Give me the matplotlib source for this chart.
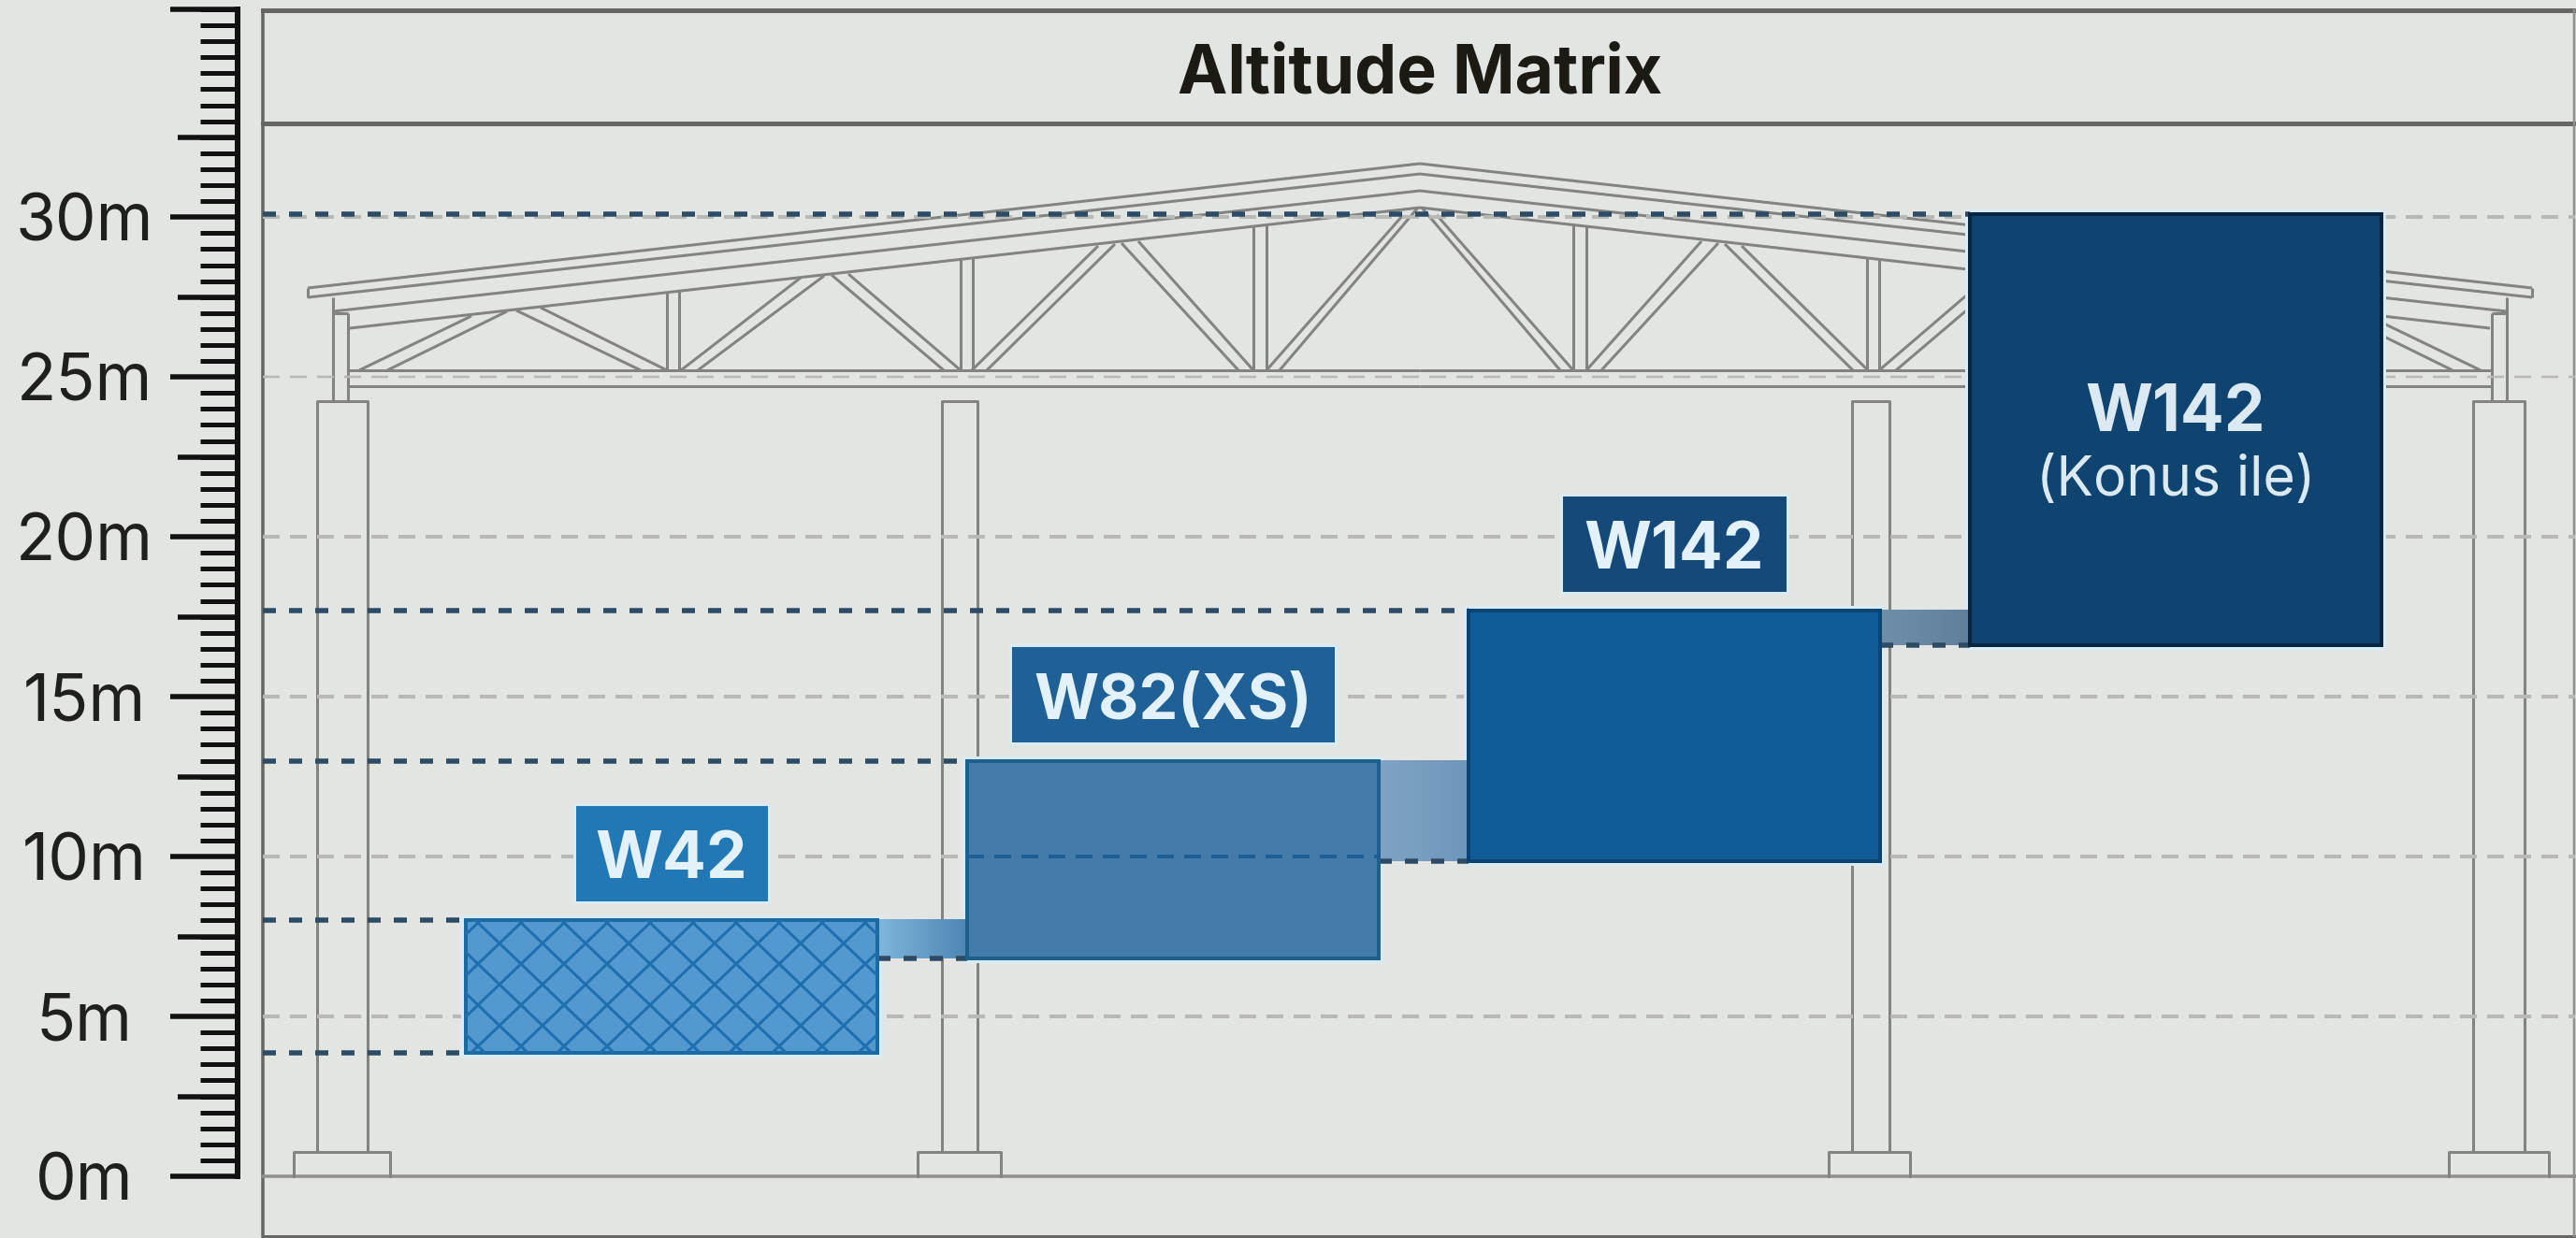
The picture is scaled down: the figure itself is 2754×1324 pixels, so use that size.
import numpy as np
import matplotlib
matplotlib.use('Agg')
import matplotlib.pyplot as plt
from matplotlib.collections import LineCollection
from matplotlib.patches import Rectangle

# values
series = ['W42', 'W82(XS)', 'W142', 'W142']
low = [3.85, 6.8, 9.85, 16.6]
high = [8.0, 13.0, 17.7, 30.1]
ruler_major = [0, 5, 10, 15, 20, 25, 30]
ruler_labels = ['0m', '5m', '10m', '15m', '20m', '25m', '30m']
ruler_mid = [2.5, 7.5, 12.5, 17.5, 22.5, 27.5, 32.5]
grid_levels = [5, 10, 15, 20, 30]

title = 'Altitude Matrix'
sub_label = '(Konus ile)'

# colours
bg = '#e3e5e2'
bar_colors = ['#5299cf', '#437cab', '#0f5a97', '#0f4470']
edge_colors = ['#1c6aa2', '#1e5f8e', '#0a4474', '#08263f']
box_colors = ['#2278b4', '#1f6096', '#14497a']
link_colors = [('#7fb6dc', '#4f87b4'), ('#7fa3c6', '#6f97bb'), ('#6f8fa9', '#5f7f9c')]
line_c = '#838381'
frame_c = '#666664'
dash_c = '#2d4b64'
grid_c = '#b8b8b4'
hatch_c = '#1f6fae'
text_c = '#e3f2fa'

W, H = 2754, 1324
px = 0.72  # one pixel in points at dpi 100
plt.rcParams['lines.scale_dashes'] = False
plt.rcParams['font.family'] = ['Inter', 'DejaVu Sans']

fig = plt.figure(figsize=(W / 100, H / 100), dpi=100, facecolor=bg)

# background layer, in pixels: frame and the hall drawing
bk = fig.add_axes([0, 0, 1, 1])
bk.set_xlim(0, W)
bk.set_ylim(H, 0)
bk.axis('off')

bk.plot([281, 281], [11, 1322], color=frame_c, lw=3.5 * px)
bk.plot([281, 2753], [11, 11], color=frame_c, lw=5 * px)
bk.plot([281, 2753], [132, 132], color=frame_c, lw=5 * px)
bk.plot([281, 2753], [1258, 1258], color='#8f8f8d', lw=3.5 * px)
bk.plot([281, 2753], [1322, 1322], color=frame_c, lw=3 * px)
bk.plot([2752, 2752], [11, 1322], color='#8f8f8d', lw=2.5 * px)

apex = 1518


def roof4(x):
    return 351 + (x - 374) * (222 - 351) / (apex - 374)


half = [
    [(329, 308), (apex, 175)],
    [(329, 318), (apex, 186)],
    [(329, 308), (329, 318)],
    [(356, 333), (apex, 204)],
    [(374, 351), (apex, 222)],
    [(356, 318), (356, 428)],
    [(372, 335), (372, 428)],
    [(356, 335), (372, 335)],
    [(372, 396), (apex, 396)],
    [(372, 413), (apex, 413)],
    # diagonals
    [(384, 396), (504, 338)], [(414, 396), (542, 333)],
    [(552, 332), (685, 396)], [(578, 329), (713, 396)],
    [(728, 396), (856, 297)], [(746, 396), (881, 295)],
    [(889, 294), (1009, 396)], [(907, 293), (1027, 396)],
    [(1039, 396), (1174, 263)], [(1055, 396), (1192, 261)],
    [(1199, 260), (1324, 396)], [(1217, 258), (1340, 396)],
    [(1354, 396), (1500, 230)], [(1368, 396), (1516, 222)],
]
for vx in [713, 726, 1027, 1040, 1340, 1354]:
    half.append([(vx, roof4(vx)), (vx, 396)])
other = [[(2 * apex - a, b) for a, b in seg] for seg in half]
bk.add_collection(LineCollection(half + other, colors=line_c, linewidths=3 * px))

# columns with their footings
columns = [(339, 393, 314, 417), (1007, 1045, 981, 1070), (1980, 2020, 1955, 2042), (2644, 2699, 2618, 2725)]
for c0, c1, f0, f1 in columns:
    bk.plot([c0, c0, c1, c1], [1232, 429, 429, 1232], color=line_c, lw=3 * px)
    bk.plot([f0, f0, f1, f1], [1258, 1232, 1232, 1258], color=line_c, lw=3 * px)

bk.text(apex, 99, title, ha='center', va='baseline', fontsize=51.5, fontweight='bold', color='#1c1a14')

# data layer: x is the position of the category, y the altitude in metres
slot = 536.0
x0 = 718.0
ax = fig.add_axes([281 / W, (H - 1258) / H, (2753 - 281) / W, (1258 - 10) / H])
ax.patch.set_alpha(0)
xl = ((281 - x0) / slot, (2753 - x0) / slot)
yl = (0, 1248 / 34.2)
bw = 440 / slot
mpx = 1 / 34.2  # one pixel in metres

for s in ['top', 'right', 'bottom']:
    ax.spines[s].set_visible(False)
ax.spines['left'].set_position(('outward', 27 * px))
ax.spines['left'].set_linewidth(6 * px)
ax.spines['left'].set_color('#111111')

grid_style = (0, (18 * px, 11 * px))
dark_style = (0, (14 * px, 14 * px))
ax.hlines(grid_levels, xl[0], xl[1], colors=grid_c, linewidth=4 * px, linestyle=grid_style, zorder=1)
ax.hlines(25, xl[0], xl[1], colors=grid_c, linewidth=2.5 * px, linestyle=grid_style, zorder=1)

# bars with a pale halo behind
pos = np.arange(len(series))
heights = np.array(high) - np.array(low)
ax.bar(pos, heights, bottom=low, width=bw, color='none', edgecolor='#d9ecf5', linewidth=10 * px, zorder=2)
bars = ax.bar(pos, heights, bottom=low, width=bw, color=bar_colors, edgecolor=edge_colors, linewidth=4 * px, zorder=4)

# lattice on the first bar
first = bars[0]
lat = 46 / slot
lat_h = 44 * mpx
for k in np.arange(-20, 20):
    xs = np.array([-1, 1])
    for sgn in (1, -1):
        ln, = ax.plot(xs, sgn * xs * lat_h / lat + k * lat_h + 6, color=hatch_c, lw=3 * px, zorder=4.5)
        ln.set_clip_path(first)

# links between the bars
for i, (c0, c1) in enumerate(link_colors):
    ramp = np.linspace(matplotlib.colors.to_rgb(c0), matplotlib.colors.to_rgb(c1), 64)[None, :, :]
    ax.imshow(ramp, extent=(i + bw / 2, i + 1 - bw / 2, low[i + 1], high[i]), aspect='auto', zorder=3, interpolation='bilinear')

# dashes from the frame to the bars
for i in pos:
    ax.hlines(high[i], xl[0], i - bw / 2, colors=dash_c, linewidth=5.5 * px, linestyle=dark_style, zorder=3.5)
ax.hlines(low[0], xl[0], -bw / 2, colors=dash_c, linewidth=5.5 * px, linestyle=dark_style, zorder=3.5)
for i in pos[1:]:
    ax.hlines(low[i], i - 1 + bw / 2, i - bw / 2, colors=dash_c, linewidth=5.5 * px, linestyle=dark_style, zorder=3.5)
ax.hlines(10, 1 - bw / 2, 1 + bw / 2, colors='#1f5e94', linewidth=4 * px, linestyle=grid_style, zorder=4.2)

# label boxes over the first three bars
box_w = [205, 345, 239]
box_size = [50, 48, 50]
box_h = 102 * mpx
for i in range(3):
    bx = box_w[i] / slot
    ybot = high[i] + 20 * mpx
    ax.add_patch(Rectangle((i - bx / 2, ybot), bx, box_h, facecolor='none', edgecolor='#d9ecf5', linewidth=6 * px, zorder=5))
    ax.add_patch(Rectangle((i - bx / 2, ybot), bx, box_h, facecolor=box_colors[i], edgecolor='none', zorder=5.1))
    ax.text(i, ybot + box_h / 2 - 26 * mpx, series[i], ha='center', va='baseline', fontsize=box_size[i], fontweight='bold', color=text_c, zorder=6)

ax.text(3, 23.3, series[3], ha='center', va='baseline', fontsize=50, fontweight='bold', color='#dbe9f2', zorder=6)
ax.text(3, 21.29, sub_label, ha='center', va='baseline', fontsize=42.5, color='#dbe9f2', zorder=6)

ax.set_xlim(xl)
ax.set_ylim(yl)
ax.set_xticks([])

# ruler
ax.set_yticks(ruler_major, labels=ruler_labels)
ax.set_yticks(np.arange(0, 36.6, 0.5), minor=True)
ax.tick_params(axis='y', which='major', length=72 * px, width=5.5 * px, color='#111111', pad=66, labelsize=50, labelcolor='#1f1f1c')
ax.tick_params(axis='y', which='minor', length=40 * px, width=5 * px, color='#111111')
for lab in ax.get_yticklabels():
    lab.set_ha('center')

sec = ax.secondary_yaxis(-27 / 2472)
sec.spines['left'].set_visible(False)
sec.set_yticks(ruler_mid, labels=[])
sec.set_yticks([yl[1] - 0.001], labels=[], minor=True)
sec.tick_params(axis='y', which='major', length=64 * px, width=5.5 * px, color='#111111')
sec.tick_params(axis='y', which='minor', length=72 * px, width=5.5 * px, color='#111111')

fig.savefig('out.png', dpi=100, facecolor=bg)
